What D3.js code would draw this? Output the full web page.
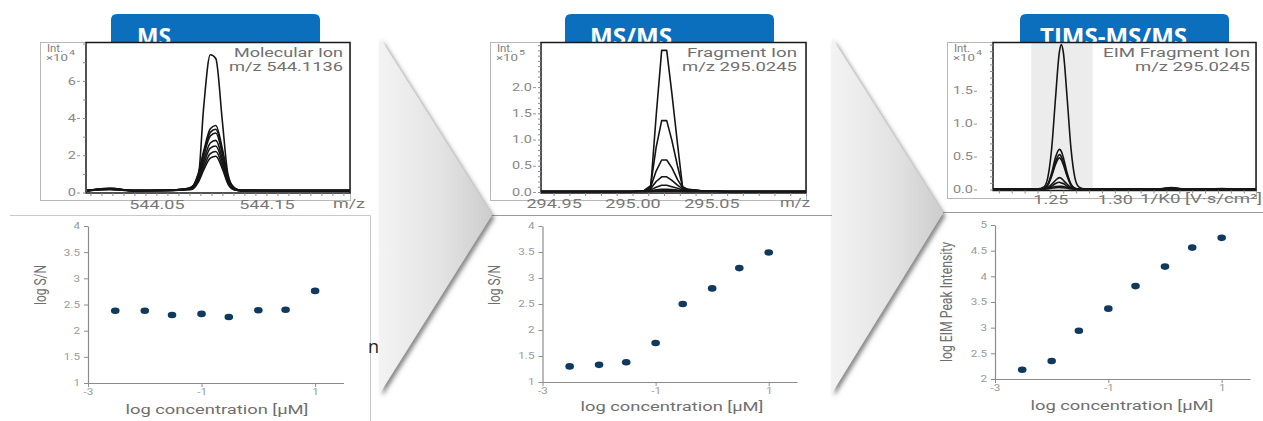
<!DOCTYPE html>
<html><head><meta charset="utf-8">
<script src="https://cdn.jsdelivr.net/npm/d3@7"></script>
<style>body{margin:0;background:#fff;} svg{display:block;font-family:Roboto,"Noto Sans",sans-serif;}</style>
</head><body>
<svg id="c" width="1263" height="421"></svg>
<script>
// ---------------- DATA ----------------
const panelTitles = ["MS", "MS/MS", "TIMS-MS/MS"];
const ionNames = ["Molecular Ion", "Fragment Ion", "EIM Fragment Ion"];
const ionMz = ["m/z 544.1136", "m/z 295.0245", "m/z 295.0245"];
const intExp = ["4", "5", "4"];
const topXUnits = ["m/z", "m/z", "1/K0 [V·s/cm²]"];

// Top row: MS traces (m/z vs intensity x10^4)
const msMz = [543.987, 544.008, 544.030, 544.060, 544.075, 544.082, 544.088, 544.093, 544.099, 544.104, 544.110, 544.115, 544.121, 544.127, 544.140, 544.170, 544.200, 544.226];
const msTraces = [
  [0.10, 0.22, 0.10, 0.12, 0.18, 0.30, 0.80, 4.60, 7.40, 7.20, 3.80, 1.00, 0.20, 0.12, 0.12, 0.10, 0.10, 0.10],
  [0.10, 0.22, 0.10, 0.12, 0.18, 0.29, 1.01, 2.23, 3.42, 3.60, 2.34, 0.86, 0.25, 0.11, 0.12, 0.10, 0.10, 0.10],
  [0.10, 0.20, 0.10, 0.12, 0.17, 0.27, 0.95, 2.11, 3.23, 3.40, 2.21, 0.82, 0.24, 0.10, 0.11, 0.10, 0.10, 0.10],
  [0.10, 0.20, 0.10, 0.12, 0.17, 0.26, 0.90, 1.98, 3.04, 3.20, 2.08, 0.77, 0.22, 0.10, 0.11, 0.10, 0.10, 0.10],
  [0.10, 0.18, 0.10, 0.11, 0.16, 0.22, 0.78, 1.74, 2.66, 2.80, 1.82, 0.67, 0.20, 0.10, 0.10, 0.10, 0.10, 0.10],
  [0.10, 0.18, 0.10, 0.11, 0.15, 0.20, 0.70, 1.55, 2.38, 2.50, 1.63, 0.60, 0.18, 0.10, 0.10, 0.10, 0.10, 0.10],
  [0.10, 0.16, 0.10, 0.11, 0.14, 0.18, 0.62, 1.36, 2.09, 2.20, 1.43, 0.53, 0.15, 0.10, 0.10, 0.10, 0.10, 0.10],
  [0.10, 0.16, 0.10, 0.10, 0.14, 0.16, 0.55, 1.21, 1.85, 1.95, 1.27, 0.47, 0.14, 0.10, 0.10, 0.10, 0.10, 0.10]
];

// Top row: MS/MS traces (m/z vs intensity x10^5)
const msmsMz = [294.942, 294.970, 295.000, 295.0075, 295.0115, 295.0150, 295.0185, 295.0217, 295.0250, 295.0285, 295.0318, 295.0350, 295.0450, 295.0600, 295.0800, 295.1100];
const msmsTraces = [
  [0.01, 0.01, 0.01, 0.02, 0.06, 1.45, 2.70, 2.70, 1.87, 0.93, 0.08, 0.04, 0.02, 0.01, 0.01, 0.01],
  [0.01, 0.01, 0.01, 0.03, 0.12, 0.85, 1.36, 1.36, 0.98, 0.50, 0.10, 0.05, 0.02, 0.01, 0.01, 0.01],
  [0.01, 0.01, 0.01, 0.03, 0.09, 0.40, 0.61, 0.61, 0.46, 0.24, 0.08, 0.05, 0.02, 0.01, 0.01, 0.01],
  [0.01, 0.01, 0.01, 0.02, 0.06, 0.20, 0.29, 0.29, 0.22, 0.13, 0.06, 0.04, 0.02, 0.01, 0.01, 0.01],
  [0.01, 0.01, 0.01, 0.02, 0.04, 0.09, 0.13, 0.13, 0.10, 0.07, 0.04, 0.03, 0.02, 0.01, 0.01, 0.01],
  [0.01, 0.01, 0.01, 0.01, 0.02, 0.04, 0.05, 0.05, 0.045, 0.035, 0.03, 0.02, 0.015, 0.01, 0.01, 0.01],
  [0.01, 0.01, 0.01, 0.01, 0.015, 0.02, 0.025, 0.025, 0.022, 0.02, 0.015, 0.012, 0.01, 0.01, 0.01, 0.01],
  [0.01, 0.01, 0.01, 0.01, 0.012, 0.014, 0.015, 0.015, 0.014, 0.013, 0.012, 0.011, 0.01, 0.01, 0.01, 0.01]
];

// Top row: TIMS EIM traces (1/K0 vs intensity x10^4)
const timsK0 = [1.2055, 1.230, 1.240, 1.245, 1.248, 1.251, 1.254, 1.257, 1.2585, 1.260, 1.263, 1.266, 1.269, 1.272, 1.276, 1.290, 1.320, 1.335, 1.344, 1.352, 1.370, 1.384, 1.390, 1.4095];
const timsTraces = [
  [0.01, 0.01, 0.01, 0.04, 0.18, 0.62, 1.39, 2.09, 2.20, 2.09, 1.39, 0.62, 0.18, 0.04, 0.01, 0.01, 0.01, 0.01, 0.03, 0.01, 0.01, 0.015, 0.01, 0.01],
  [0.01, 0.01, 0.01, 0.02, 0.08, 0.25, 0.49, 0.61, 0.58, 0.49, 0.25, 0.08, 0.02, 0.01, 0.01, 0.01, 0.01, 0.01, 0.025, 0.01, 0.01, 0.01, 0.01, 0.01],
  [0.01, 0.01, 0.01, 0.015, 0.07, 0.22, 0.42, 0.53, 0.50, 0.42, 0.22, 0.07, 0.015, 0.01, 0.01, 0.01, 0.01, 0.01, 0.02, 0.01, 0.01, 0.01, 0.01, 0.01],
  [0.01, 0.01, 0.01, 0.013, 0.065, 0.20, 0.38, 0.48, 0.45, 0.38, 0.20, 0.065, 0.013, 0.01, 0.01, 0.01, 0.01, 0.01, 0.02, 0.01, 0.01, 0.01, 0.01, 0.01],
  [0.01, 0.01, 0.01, 0.01, 0.03, 0.08, 0.14, 0.18, 0.17, 0.14, 0.08, 0.03, 0.01, 0.01, 0.01, 0.01, 0.01, 0.01, 0.015, 0.01, 0.01, 0.01, 0.01, 0.01],
  [0.01, 0.01, 0.01, 0.01, 0.02, 0.05, 0.09, 0.11, 0.10, 0.09, 0.05, 0.02, 0.01, 0.01, 0.01, 0.01, 0.01, 0.01, 0.012, 0.01, 0.01, 0.01, 0.01, 0.01],
  [0.01, 0.01, 0.01, 0.01, 0.015, 0.03, 0.045, 0.05, 0.048, 0.045, 0.03, 0.015, 0.01, 0.01, 0.01, 0.01, 0.01, 0.01, 0.01, 0.01, 0.01, 0.01, 0.01, 0.01],
  [0.01, 0.01, 0.01, 0.01, 0.012, 0.02, 0.027, 0.03, 0.029, 0.027, 0.02, 0.012, 0.01, 0.01, 0.01, 0.01, 0.01, 0.01, 0.01, 0.01, 0.01, 0.01, 0.01, 0.01]
];

// Top row tick values / labels
const msXTicks = [544.05, 544.15];
const msmsXTicks = [294.95, 295.00, 295.05];
const timsXTicks = [1.25, 1.30];
const msYTicks = [0, 2, 4, 6];
const msmsYTicks = [0, 0.5, 1.0, 1.5, 2.0];
const timsYTicks = [0, 0.5, 1.0, 1.5];

// Bottom row: calibration (log concentration)
const logConc = [-2.52, -2, -1.52, -1, -0.52, 0, 0.48, 1];
const msLogSN = [2.38, 2.38, 2.30, 2.32, 2.26, 2.39, 2.40, 2.76];
const msmsLogSN = [1.30, 1.33, 1.38, 1.75, 2.50, 2.80, 3.19, 3.49];
const timsLogEIM = [2.18, 2.35, 2.94, 3.37, 3.81, 4.19, 4.56, 4.75];
const concTicks = [-3, -1, 1];
const snTicks = [1, 1.5, 2, 2.5, 3, 3.5, 4];
const eimTicks = [2, 2.5, 3, 3.5, 4, 4.5, 5];
const xTitle = "log concentration [µM]";
const yTitles = ["log S/N", "log S/N", "log EIM Peak Intensity"];

// ---------------- DRAWING ----------------
const svg = d3.select("#c");
const defs = svg.append("defs");
const grad = defs.append("linearGradient").attr("id", "arrowGrad").attr("x1", 0).attr("x2", 1).attr("y1", 0).attr("y2", 0);
grad.append("stop").attr("offset", "0%").attr("stop-color", "#f3f3f3");
grad.append("stop").attr("offset", "55%").attr("stop-color", "#e3e3e3");
grad.append("stop").attr("offset", "100%").attr("stop-color", "#cdcdcd");
const flt = defs.append("filter").attr("id", "shadow").attr("x", "-20%").attr("y", "-20%").attr("width", "150%").attr("height", "150%");
flt.append("feDropShadow").attr("dx", 2.5).attr("dy", 3).attr("stdDeviation", 2.2).attr("flood-color", "#444").attr("flood-opacity", 0.65);
defs.append("clipPath").attr("id", "hdrClip").append("rect").attr("x", 0).attr("y", 0).attr("width", 1263).attr("height", 42);

function stretch(sel, s) {
  sel.each(function () {
    const t = d3.select(this);
    const x = +(t.attr("x") || 0);
    t.attr("x", x / s).attr("transform", `scale(${s},1)`);
  });
}

// separator lines of the pasted images
svg.append("path").attr("d", "M10,215.5H370.5V421").attr("fill", "none").attr("stroke", "#c9c9c9");
svg.append("path").attr("d", "M490,215.5H833").attr("fill", "none").attr("stroke", "#9a9a9a");
svg.append("path").attr("d", "M943,212.5H1263").attr("fill", "none").attr("stroke", "#9a9a9a");

// stray text fragment
svg.append("text").attr("x", 368).attr("y", 353).attr("font-family", "'Open Sans',sans-serif")
  .attr("font-size", 18).attr("fill", "#222").text("n");

// arrows
[[380, 38, 492, 215, 393], [832, 38, 943, 213, 393]].forEach(a => {
  svg.append("path").attr("d", `M${a[0]},${a[1]}L${a[2]},${a[3]}L${a[0]},${a[4]}Z`)
    .attr("fill", "url(#arrowGrad)").attr("filter", "url(#shadow)");
});

// header boxes
const headerX = [111, 565, 1020];
const headerTextX = [137, 590, 1040];
const headerTextW = [34, 82, 147];
headerX.forEach((hx, i) => {
  svg.append("path").attr("d", `M${hx},50V20Q${hx},14 ${hx + 6},14H${hx + 203}Q${hx + 209},14 ${hx + 209},20V50Z`)
    .attr("fill", "#0b6fbe");
  svg.append("text").attr("x", headerTextX[i]).attr("y", 45).attr("clip-path", "url(#hdrClip)")
    .attr("font-family", "'Open Sans',sans-serif").attr("font-weight", 700).attr("font-size", 23)
    .attr("fill", "#fff").attr("textLength", headerTextW[i]).attr("lengthAdjust", "spacingAndGlyphs")
    .text(panelTitles[i]);
});

// ------------- top spectra charts -------------
function topChart(c) {
  const g = svg.append("g");
  g.append("rect").attr("x", c.gx + 0.5).attr("y", 42.5).attr("width", c.right - c.gx).attr("height", c.gb - 42)
    .attr("fill", "#fff").attr("stroke", "#b8b8b8");
  const x = d3.scaleLinear().domain(c.xd).range([c.bx, c.right]);
  const y = d3.scaleLinear().domain(c.yd).range(c.yr);
  if (c.band) {
    g.append("rect").attr("x", x(c.band[0])).attr("y", 43).attr("width", x(c.band[1]) - x(c.band[0]))
      .attr("height", c.bb - 43).attr("fill", "#ececec");
  }
  const cid = "clip" + c.id;
  defs.append("clipPath").attr("id", cid).append("rect").attr("x", c.bx).attr("y", 42).attr("width", c.right - c.bx).attr("height", c.bb - 42);
  const line = d3.line().x((d, i) => x(c.xs[i])).y(d => y(d)).curve(c.curve);
  g.append("g").attr("clip-path", `url(#${cid})`).selectAll("path").data(c.traces).join("path")
    .attr("d", line).attr("fill", "none").attr("stroke", "#151515").attr("stroke-width", 1.6).attr("stroke-linejoin", "round");
  // black frame
  g.append("rect").attr("x", c.bx).attr("y", 42.5).attr("width", c.right - c.bx).attr("height", c.bb - 42.5)
    .attr("fill", "none").attr("stroke", "#1a1a1a").attr("stroke-width", 1.5);
  // minor ticks bottom
  const mb = g.append("g").attr("transform", `translate(0,${c.bb})`)
    .call(d3.axisBottom(x).tickValues(x.ticks(c.xMinor)).tickSize(3).tickFormat(""));
  mb.select(".domain").remove();
  mb.selectAll("line").attr("stroke", "#8a8a8a");
  // major labels bottom
  const xb = g.append("g").attr("transform", `translate(0,${c.bb})`)
    .call(d3.axisBottom(x).tickValues(c.xTicks).tickSize(0).tickPadding(c.xPad).tickFormat(d3.format(c.xFmt)));
  xb.select(".domain").remove();
  xb.selectAll("text").attr("font-size", 12).attr("fill", "#777").attr("font-family", "Roboto");
  stretch(xb.selectAll("text"), 1.5);
  // minor ticks left
  const ml = g.append("g").attr("transform", `translate(${c.bx},0)`)
    .call(d3.axisLeft(y).tickValues(y.ticks(c.yMinor)).tickSize(3).tickFormat(""));
  ml.select(".domain").remove();
  ml.selectAll("line").attr("stroke", "#8a8a8a");
  // major labels left
  const yl = g.append("g").attr("transform", `translate(${c.yAxisX},0)`)
    .call(d3.axisLeft(y).tickValues(c.yTicks).tickSize(3).tickPadding(1).tickFormat(d3.format(c.yFmt)));
  yl.select(".domain").remove();
  yl.selectAll("line").attr("stroke", "#999");
  yl.selectAll("text").attr("font-size", 10).attr("fill", "#888").attr("font-family", "Roboto");
  stretch(yl.selectAll("text"), 1.45);
  // Int x10^n
  const t = g.append("g").attr("fill", "#808080").attr("font-family", "Roboto");
  t.append("text").attr("x", c.gx + 7).attr("y", 52).attr("font-size", 10).attr("textLength", 16).attr("lengthAdjust", "spacingAndGlyphs").text("Int.");
  t.append("text").attr("x", c.gx + 6).attr("y", 61).attr("font-size", 9).attr("textLength", 22).attr("lengthAdjust", "spacingAndGlyphs").text("×10");
  t.append("text").attr("x", c.gx + 29).attr("y", 55).attr("font-size", 8).attr("textLength", 6).attr("lengthAdjust", "spacingAndGlyphs").text(c.exp);
  // ion legend
  g.append("text").attr("x", c.right - c.legR).attr("y", 57).attr("text-anchor", "end").attr("font-size", 12.5).attr("fill", "#707070")
    .attr("textLength", c.legW[0]).attr("lengthAdjust", "spacingAndGlyphs").text(c.name);
  g.append("text").attr("x", c.right - c.legR).attr("y", 71).attr("text-anchor", "end").attr("font-size", 12.5).attr("fill", "#707070")
    .attr("textLength", c.legW[1]).attr("lengthAdjust", "spacingAndGlyphs").text(c.mz);
  // unit
  g.append("text").attr("x", c.unitX).attr("y", c.unitY).attr("font-size", 12).attr("fill", "#777")
    .attr("textLength", c.unitW).attr("lengthAdjust", "spacingAndGlyphs").text(c.unit);
}

topChart({ id: 1, gx: 40, bx: 86, right: 350, gb: 200, bb: 193, xd: [543.986, 544.226], yd: [0, 8.06], yr: [192.5, 42.5],
  xs: msMz, traces: msTraces, curve: d3.curveMonotoneX, xTicks: msXTicks, xFmt: ".2f", xPad: 7, xMinor: 24,
  yTicks: msYTicks, yFmt: "d", yMinor: 8, yAxisX: 80, exp: intExp[0], name: ionNames[0], mz: ionMz[0], legR: 7, legW: [109, 114],
  unit: topXUnits[0], unitX: 333, unitY: 208, unitW: 32 });
topChart({ id: 2, gx: 490, bx: 541, right: 806, gb: 200, bb: 193, xd: [294.942, 295.110], yd: [0, 2.86], yr: [192, 42],
  xs: msmsMz, traces: msmsTraces, curve: d3.curveLinear, xTicks: msmsXTicks, xFmt: ".2f", xPad: 6, xMinor: 16,
  yTicks: msmsYTicks, yFmt: ".1f", yMinor: 28, yAxisX: 536, exp: intExp[1], name: ionNames[1], mz: ionMz[1], legR: 9, legW: [110, 115],
  unit: topXUnits[1], unitX: 780, unitY: 207, unitW: 30 });
topChart({ id: 3, gx: 947, bx: 993, right: 1256, gb: 198, bb: 190.5, xd: [1.2055, 1.4095], yd: [0, 2.24], yr: [189.5, 42],
  xs: timsK0, traces: timsTraces, curve: d3.curveMonotoneX, xTicks: timsXTicks, xFmt: ".2f", xPad: 5, xMinor: 20,
  yTicks: timsYTicks, yFmt: ".1f", yMinor: 22, yAxisX: 977, band: [1.2352, 1.2828], exp: intExp[2], name: ionNames[2], mz: ionMz[2], legR: 6, legW: [147, 115],
  unit: topXUnits[2], unitX: 1140, unitY: 203, unitW: 122 });

// ------------- bottom calibration scatter charts -------------
function scatter(c) {
  const g = svg.append("g");
  const x = d3.scaleLinear().domain([-3, 1.5]).range([c.x0, c.x1]);
  const y = d3.scaleLinear().domain(c.yd).range([c.y0, c.y1]);
  const xa = g.append("g").attr("transform", `translate(0,${c.y0})`)
    .call(d3.axisBottom(x).tickValues(concTicks).tickSize(4).tickSizeOuter(0).tickPadding(2).tickFormat(d => String(d)));
  const ya = g.append("g").attr("transform", `translate(${c.x0},0)`)
    .call(d3.axisLeft(y).tickValues(c.ticks).tickSize(4).tickSizeOuter(0).tickPadding(4).tickFormat(d => String(d)));
  [xa, ya].forEach(a => {
    a.select(".domain").attr("stroke", "#8c8c8c").attr("stroke-width", 1.2);
    a.selectAll("line").attr("stroke", "#8c8c8c");
    a.selectAll("text").attr("font-size", 9).attr("fill", "#9a9a9a").attr("font-family", "Roboto");
  });
  stretch(xa.selectAll("text"), 1.3);
  stretch(ya.selectAll("text"), 1.3);
  g.selectAll("ellipse").data(c.vals).join("ellipse")
    .attr("cx", (d, i) => x(logConc[i])).attr("cy", d => y(d)).attr("rx", 4.3).attr("ry", 3.3).attr("fill", "#0f3a5e");
  g.append("text").attr("x", c.titleX).attr("y", c.titleY).attr("text-anchor", "middle").attr("font-size", 12.5)
    .attr("fill", "#6f6f6f").attr("textLength", 183).attr("lengthAdjust", "spacingAndGlyphs").text(xTitle);
  g.append("text").attr("transform", `translate(${c.ylX},${c.ylY}) scale(1.4,1) rotate(-90)`).attr("text-anchor", "middle")
    .attr("dy", "0.35em").attr("font-size", 12).attr("fill", "#6f6f6f")
    .attr("textLength", c.ylLen).attr("lengthAdjust", "spacingAndGlyphs").text(c.ylabel);
}
scatter({ x0: 88, x1: 343.5, y0: 383, y1: 226, yd: [1, 4], ticks: snTicks, vals: msLogSN, titleX: 217, titleY: 414, ylX: 40, ylY: 285, ylLen: 40, ylabel: yTitles[0] });
scatter({ x0: 542.5, x1: 797, y0: 382, y1: 226, yd: [1, 4], ticks: snTicks, vals: msmsLogSN, titleX: 672, titleY: 411, ylX: 494, ylY: 285, ylLen: 40, ylabel: yTitles[1] });
scatter({ x0: 995, x1: 1250, y0: 379, y1: 225, yd: [2, 5], ticks: eimTicks, vals: timsLogEIM, titleX: 1122, titleY: 410, ylX: 946, ylY: 302, ylLen: 120, ylabel: yTitles[2] });
</script>
</body></html>
